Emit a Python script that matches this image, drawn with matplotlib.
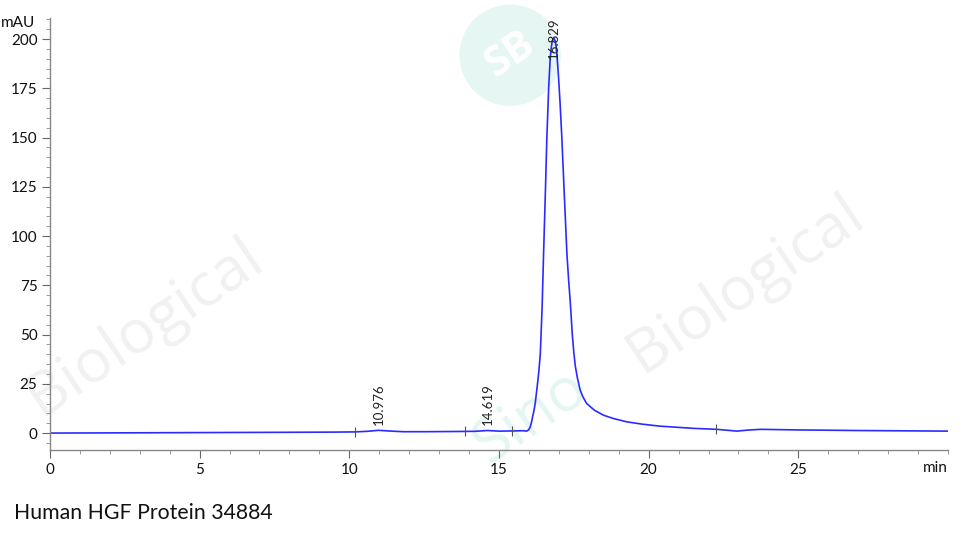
import numpy as np
import matplotlib
matplotlib.use('Agg')
import matplotlib.pyplot as plt
from matplotlib.patches import Ellipse
from matplotlib.ticker import MultipleLocator

# chromatogram trace (min, mAU)
time = [0, 2, 4, 6, 8, 9.5, 10.2, 10.6, 10.976, 11.4, 11.8, 12.5, 13.5, 14.2,
        14.619, 15.0, 15.5, 15.8, 15.93, 16.0, 16.04, 16.08, 16.12, 16.17, 16.21,
        16.28, 16.33, 16.38, 16.44, 16.49, 16.55, 16.60, 16.66, 16.71, 16.75,
        16.78, 16.829, 16.88, 16.91, 16.93, 16.98, 17.04, 17.10, 17.18, 17.27,
        17.33, 17.38, 17.45, 17.5, 17.55, 17.62, 17.71, 17.8, 17.93, 18.05,
        18.2, 18.49, 18.8, 19.27, 19.8, 20.39, 21.0, 21.5, 22.28, 22.95, 23.3,
        23.73, 25, 27, 30]
signal = [0, 0.1, 0.2, 0.3, 0.4, 0.5, 0.6, 0.9, 1.4, 1.0, 0.7, 0.7, 0.8, 0.9,
          1.3, 1.0, 1.1, 1.2, 1.0, 1.8, 3.0, 5.0, 8.0, 11.5, 15,
          24, 31, 40, 63, 91, 122, 150, 175, 190, 196,
          199, 200.5, 199, 196, 193, 183, 168, 150, 122, 91,
          77, 67, 50, 41, 34, 28, 22, 18.5, 15, 13.4,
          11.5, 9.1, 7.5, 5.7, 4.5, 3.5, 2.9, 2.4, 1.9, 1.0, 1.5,
          1.9, 1.6, 1.3, 1.0]

peak_times = [10.976, 14.619, 16.829]
peak_labels = ['10.976', '14.619', '16.829']
label_y = [4, 4, 190]

# integration start/end markers on the baseline
marker_times = [10.2, 13.85, 15.43, 22.25]

fig = plt.figure(figsize=(9.59, 5.36), dpi=100)
ax = fig.add_axes([0.0521, 0.1604, 0.9364, 0.806], zorder=1)
ax.patch.set_alpha(0)

# faint watermark
wm_gray = '#f1f1f1'
wm_teal = '#e3f6f2'
fig.text(0.151, 0.39, 'Biological', fontsize=44, color=wm_gray, rotation=34,
         ha='center', va='center', family='Open Sans', zorder=-1)
fig.text(0.777, 0.47, 'Biological', fontsize=44, color=wm_gray, rotation=34,
         ha='center', va='center', family='Open Sans', zorder=-1)
fig.text(0.553, 0.225, 'Sino', fontsize=44, color=wm_teal, rotation=34,
         ha='center', va='center', family='Open Sans', zorder=-1)
logo = Ellipse((0.532, 0.897), 100 / 959, 100 / 536, transform=fig.transFigure,
               color='#e6f6f3', zorder=-1)
fig.patches.append(logo)
fig.text(0.532, 0.897, 'SB', fontsize=30, color='white', rotation=34,
         ha='center', va='center', family='Open Sans', weight='bold', zorder=-1)

ax.plot(time, signal, color='#2b2bff', linewidth=1.2)

my = np.interp(marker_times, time, signal)
ax.plot(marker_times, my, linestyle='none', marker='|', markersize=7,
        color='#555555', markeredgewidth=0.8)

for t, lab, ly in zip(peak_times, peak_labels, label_y):
    ax.text(t, ly, lab, rotation=90, ha='center', va='bottom',
            fontsize=9.5, family='Lato', color='#222222')

ax.set_xlim(0, 30)
ax.set_ylim(-8.6, 210.7)
ax.xaxis.set_major_locator(MultipleLocator(5))
ax.xaxis.set_minor_locator(MultipleLocator(1))
ax.yaxis.set_major_locator(MultipleLocator(25))
ax.yaxis.set_minor_locator(MultipleLocator(5))
ax.set_xticks([0, 5, 10, 15, 20, 25])
ax.set_xticklabels(['0', '5', '10', '15', '20', '25'])

for s in ['top', 'right']:
    ax.spines[s].set_visible(False)
for s in ['left', 'bottom']:
    ax.spines[s].set_color('#888888')
    ax.spines[s].set_linewidth(1.0)

ax.tick_params(which='major', length=6, color='#666666', labelsize=11, pad=3)
ax.tick_params(which='minor', length=3, color='#888888')
for lab in ax.get_xticklabels() + ax.get_yticklabels():
    lab.set_family('Lato')
    lab.set_color('#111111')

fig.text(0.0365, 0.958, 'mAU', ha='right', va='center', fontsize=11,
         family='Lato', color='#111111')
fig.text(0.988, 0.127, 'min', ha='right', va='center', fontsize=11,
         family='Lato', color='#111111')

fig.text(0.015, 0.043, 'Human HGF Protein 34884', ha='left', va='center',
         fontsize=15.3, family='Lato', color='#111111')

fig.savefig('out.png', dpi=100)
